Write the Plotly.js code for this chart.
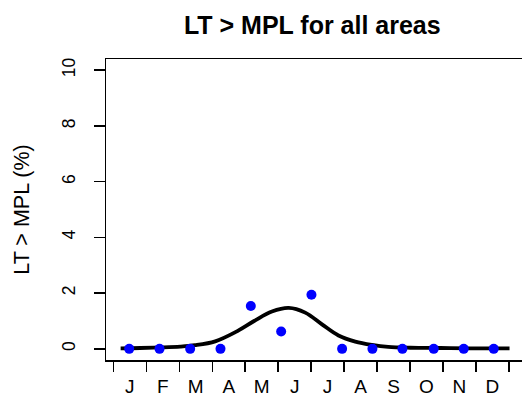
<!DOCTYPE html>
<html>
<head>
<meta charset="utf-8">
<script src="https://cdn.plot.ly/plotly-3.0.1.min.js"></script>
<style>
html,body{margin:0;padding:0;overflow:hidden;background:#fff;}
#chart{width:527px;height:398px;}
</style>
</head>
<body>
<div id="chart"></div>
<script>
// Month labels (centred between month boundaries)
var monthLabels = ["J","F","M","A","M","J","J","A","S","O","N","D"];
var monthCentres = [0.5,1.5,2.5,3.5,4.5,5.5,6.5,7.5,8.5,9.5,10.5,11.5];
var monthBounds = [0,1,2,3,4,5,6,7,8,9,10,11,12];

// Observed points (x in months)
var obsX = [0.48,1.40,2.33,3.25,4.17,5.09,6.01,6.94,7.86,8.77,9.72,10.63,11.54];
var obsY = [0,0,0,0,1.54,0.62,1.94,0,0,0,0,0,0];

// Smoothed curve
var fitX = [0.22,0.81,1.42,2.03,2.48,3.09,3.70,4.27,4.81,5.32,5.82,6.33,6.83,7.34,7.85,8.34,9.01,9.92,10.83,12.02];
var fitY = [0.02,0.03,0.05,0.08,0.13,0.27,0.60,1.00,1.34,1.47,1.30,0.88,0.48,0.26,0.14,0.07,0.04,0.03,0.02,0.02];

var yTicks = [0,2,4,6,8,10];

var FONT = "Liberation Sans, Arial, sans-serif";

var traces = [
  {x: fitX, y: fitY, type: "scatter", mode: "lines",
   line: {color: "#000000", width: 3.8, shape: "spline", smoothing: 1},
   hoverinfo: "skip", showlegend: false},
  {x: obsX, y: obsY, type: "scatter", mode: "markers",
   marker: {color: "#0000FF", size: 10, line: {width: 0}},
   hoverinfo: "skip", showlegend: false},
  {x: [null], y: [null], xaxis: "x2", type: "scatter", mode: "markers",
   hoverinfo: "skip", showlegend: false}
];

var xr = [-0.224, 12.55];

var layout = {
  width: 527, height: 398,
  margin: {l: 106, r: 0, t: 59, b: 38, pad: 0},
  paper_bgcolor: "#ffffff", plot_bgcolor: "#ffffff",
  showlegend: false,
  title: {text: "<b>LT > MPL for all areas</b>", font: {family: FONT, size: 25, color: "#000"},
          xref: "paper", x: 0.49, xanchor: "center", yref: "container", y: 1 - 25/398, yanchor: "middle"},
  xaxis: {range: xr, tickmode: "array", tickvals: monthCentres, ticktext: monthLabels,
          ticks: "outside", ticklen: 9, tickcolor: "rgba(0,0,0,0)",
          tickfont: {family: FONT, size: 19, color: "#000"},
          showline: true, linecolor: "#000", linewidth: 1.5, mirror: true,
          showgrid: false, zeroline: false, fixedrange: true},
  xaxis2: {range: xr, overlaying: "x", anchor: "y", side: "bottom",
           tickmode: "array", tickvals: monthBounds, showticklabels: false,
           ticks: "outside", ticklen: 11, tickwidth: 1.5, tickcolor: "#000",
           showline: false, showgrid: false, zeroline: false, fixedrange: true},
  yaxis: {range: [-0.4, 10.4], tickmode: "array", tickvals: yTicks,
          ticks: "outside", ticklen: 11, tickwidth: 1.5, tickcolor: "#000",
          tickangle: -90, ticklabelstandoff: 12,
          tickfont: {family: FONT, size: 17.5, color: "#000"},
          showline: true, linecolor: "#000", linewidth: 1.5, mirror: true,
          showgrid: false, zeroline: false, fixedrange: true,
          title: {text: "LT > MPL (%)", font: {family: FONT, size: 21.5, color: "#000"}, standoff: 23}}
};

Plotly.newPlot("chart", traces, layout, {staticPlot: true, displayModeBar: false});
</script>
</body>
</html>
